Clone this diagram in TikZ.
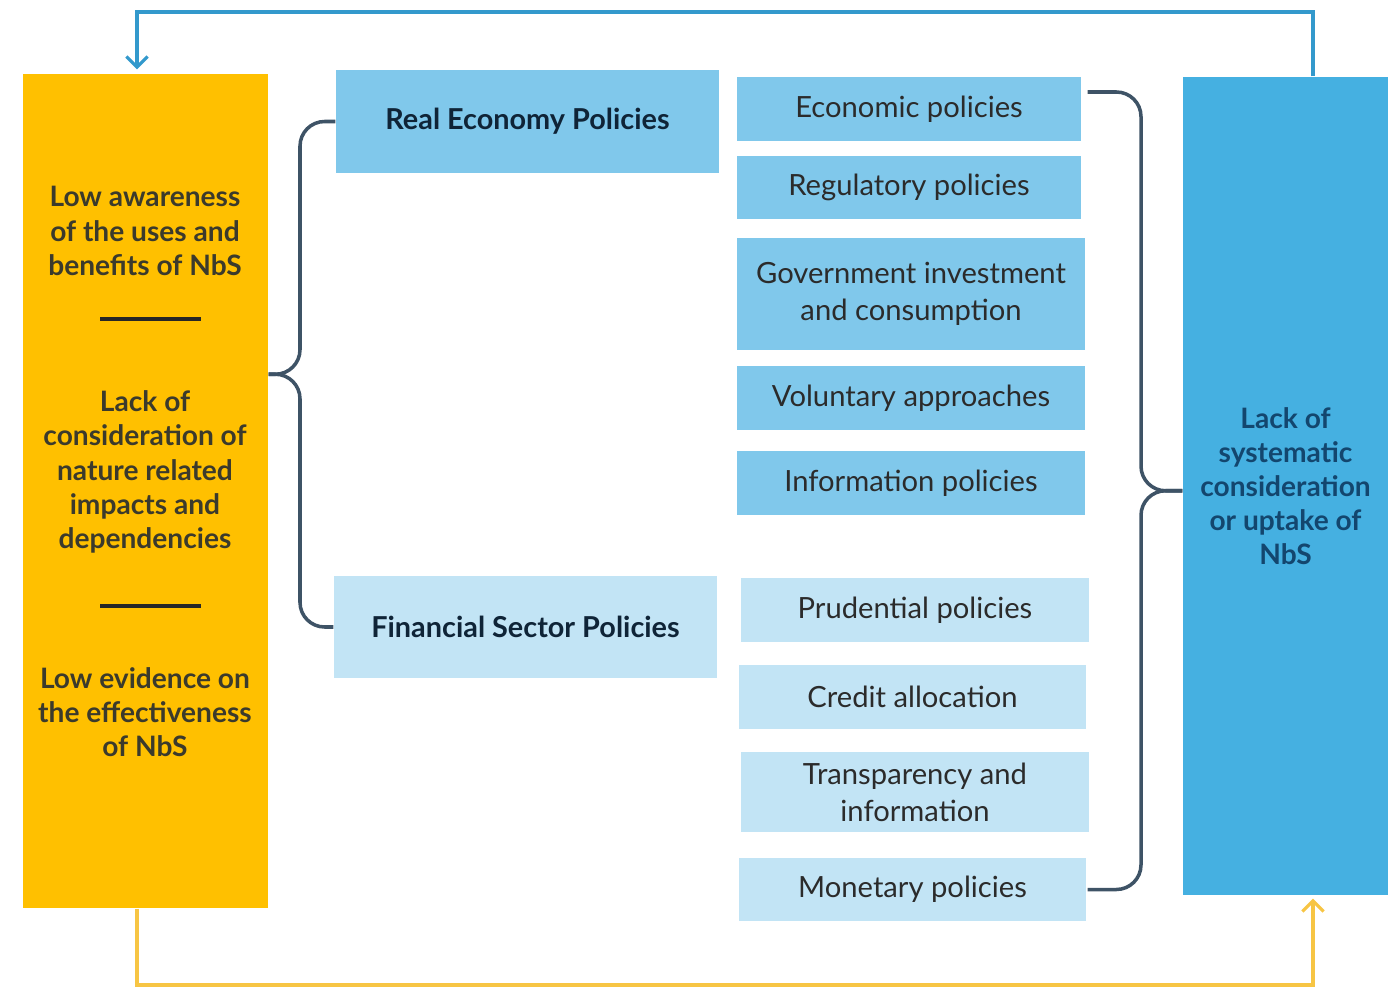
\documentclass[tikz,border=0pt]{standalone}
\usepackage{fontspec}
\setmainfont{Lato}
\usepackage{tikz}
\usetikzlibrary{arrows.meta,positioning,calc}

\definecolor{nbsyellow}{HTML}{FFC000}
\definecolor{nbsblue}{HTML}{45B0E1}
\definecolor{realfill}{HTML}{80C8EB}
\definecolor{finfill}{HTML}{C2E4F5}
\definecolor{loopblue}{HTML}{3399CC}
\definecolor{loopyellow}{HTML}{F7C544}
\definecolor{bracecol}{HTML}{3E5366}
\definecolor{barriertxt}{HTML}{3B3A2C}
\definecolor{outcometxt}{HTML}{13466E}
\definecolor{headtxt}{HTML}{0F2437}
\definecolor{policytxt}{HTML}{2B2B2B}

\tikzset{
  column/.style={inner sep=0pt, align=center},
  barriertext/.style={align=center, text=barriertxt, font=\fontsize{8}{9.7}\selectfont\bfseries},
  head/.style={inner sep=0pt, align=center, text=headtxt, font=\fontsize{8.2}{10}\selectfont\bfseries},
  policy/.style={inner sep=0pt, align=center, text=policytxt, font=\fontsize{8.3}{10.5}\selectfont},
  brace/.style={draw=bracecol, line width=1pt, rounded corners=7},
  loop/.style={line width=0.9pt, -{Straight Barb[length=3pt,width=6pt]}},
  divider/.style={line width=1pt, black!85}
}

\begin{document}
\begin{tikzpicture}[x=0.01cm,y=-0.01cm]
  \useasboundingbox (0,0) rectangle (1388,988);

  % left and right columns
  \node[column, fill=nbsyellow, minimum width=245*0.01cm, minimum height=834*0.01cm] (barriers) at (145.5,491) {};
  \node[column, fill=nbsblue, minimum width=205*0.01cm, minimum height=818*0.01cm,
        text=outcometxt, font=\fontsize{8}{9.7}\selectfont\bfseries] (outcome) at (1285.5,486)
        {Lack of\\systematic\\consideration\\or uptake of\\NbS};

  % barriers
  \node[barriertext] (aware) at (145,231) {Low awareness\\of the uses and\\benefits of NbS};
  \node[barriertext] (consid) at (145,472) {Lack of\\consideration of\\nature related\\impacts and\\dependencies};
  \node[barriertext] (evid) at (145,712) {Low evidence on\\the effectiveness\\of NbS};
  \draw[divider] (100,319) -- (201,319);
  \draw[divider] (100,606) -- (201,606);

  % policy groups
  \node[head, fill=realfill, minimum width=383*0.01cm, minimum height=103*0.01cm] (realhead) at (527.5,121.5) {Real Economy Policies};
  \node[head, fill=finfill, minimum width=383*0.01cm, minimum height=102*0.01cm] (finhead) at (525.5,627) {Financial Sector Policies};

  \node[policy, fill=realfill, minimum width=344*0.01cm, minimum height=64*0.01cm] (econ) at (909,109) {Economic policies};
  \node[policy, fill=realfill, minimum width=344*0.01cm, minimum height=63*0.01cm] (reg) at (909,187.5) {Regulatory policies};
  \node[policy, fill=realfill, minimum width=348*0.01cm, minimum height=112*0.01cm] (gov) at (911,294) {Government investment\\and consumption};
  \node[policy, fill=realfill, minimum width=348*0.01cm, minimum height=64*0.01cm] (vol) at (911,398) {Voluntary approaches};
  \node[policy, fill=realfill, minimum width=348*0.01cm, minimum height=64*0.01cm] (info) at (911,483) {Information policies};

  \node[policy, fill=finfill, minimum width=348*0.01cm, minimum height=64*0.01cm] (prud) at (915,610) {Prudential policies};
  \node[policy, fill=finfill, minimum width=347*0.01cm, minimum height=64*0.01cm] (credit) at (912.5,697) {Credit allocation};
  \node[policy, fill=finfill, minimum width=348*0.01cm, minimum height=80*0.01cm] (transp) at (915,792) {Transparency and\\information};
  \node[policy, fill=finfill, minimum width=347*0.01cm, minimum height=63*0.01cm] (monet) at (912.5,889.5) {Monetary policies};

  % brackets
  \coordinate (lmid) at ($(realhead.west)!0.5!(finhead.west)$);
  \coordinate (lbar) at (300,0);
  \draw[brace] (realhead.west) -| (lbar |- lmid) -- (barriers.east |- lmid);
  \draw[brace] (finhead.west) -| (lbar |- lmid) -- (barriers.east |- lmid);

  \coordinate (rtop) at ($(econ.east)+(6,-17)$);
  \coordinate (rbot) at ($(monet.east)+(1,0)$);
  \coordinate (rmid) at ($(rtop)!0.5!(rbot)$);
  \coordinate (rbar) at (1141,0);
  \draw[brace] (rtop) -| (rbar |- rmid) -- (outcome.west |- rmid);
  \draw[brace] (rbot) -| (rbar |- rmid) -- (outcome.west |- rmid);

  % feedback loops
  \coordinate (topr) at (1313,12);
  \coordinate (topl) at (137,12);
  \coordinate (botl) at (137,985);
  \coordinate (botr) at (1313,985);
  \draw[loop, loopblue] (outcome.north -| topr) |- (topl) -- ($(barriers.north -| topl)+(0,-4)$);
  \draw[loop, loopyellow] (barriers.south -| botl) |- (botr) -- ($(outcome.south -| botr)+(0,3)$);
\end{tikzpicture}
\end{document}
